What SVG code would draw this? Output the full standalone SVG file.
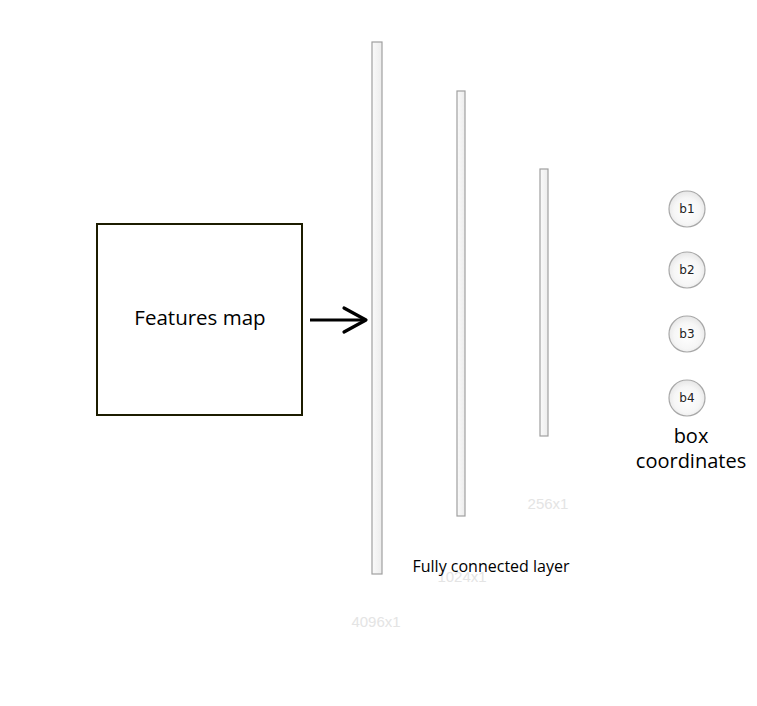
<svg xmlns="http://www.w3.org/2000/svg" width="757" height="706" viewBox="0 0 757 706">
<style>
.bar{fill:url(#barg);stroke:#a0a0a0;stroke-width:1.2}
.node{fill:url(#circg);stroke:#a8a8a8;stroke-width:1.2}
.nl{font-family:"DejaVu Sans",sans-serif;font-size:12px;fill:#222;text-anchor:middle}
.dim{font-family:"Liberation Sans",Arial,sans-serif;font-size:15px;fill:#e4e4e4;text-anchor:middle}
.lbl{font-family:"Open Sans","DejaVu Sans",sans-serif;fill:#000;text-anchor:middle}
</style>
<defs>
<linearGradient id="barg" x1="0" y1="0" x2="1" y2="0">
<stop offset="0" stop-color="#fafafa"/><stop offset="1" stop-color="#ececec"/>
</linearGradient>
<radialGradient id="circg" cx="0.5" cy="0.55" r="0.6">
<stop offset="0" stop-color="#ffffff"/><stop offset="0.6" stop-color="#f6f6f6"/><stop offset="1" stop-color="#e2e2e2"/>
</radialGradient>
</defs>
<rect width="757" height="706" fill="#fff"/>
<g id="features">
<rect x="97" y="224" width="205" height="191" fill="#fff" stroke="#1c1c00" stroke-width="2"/>
<text class="lbl" x="200" y="325" font-size="20.5">Features map</text>
</g>
<g id="connectors">
<line x1="310" y1="320" x2="365" y2="320" stroke="#000" stroke-width="3.2"/>
<polyline points="344,308 366,320 344,332" fill="none" stroke="#000" stroke-width="3.2" stroke-linejoin="round" stroke-linecap="round"/>
</g>
<g id="fc4096">
<rect class="bar" x="372" y="42" width="10" height="532"/>
<text class="dim" x="376" y="627">4096x1</text>
</g>
<g id="fc1024">
<rect class="bar" x="457" y="91" width="8" height="425"/>
<text class="dim" x="462" y="582">1024x1</text>
</g>
<g id="fc256">
<rect class="bar" x="540" y="169" width="8" height="267"/>
<text class="dim" x="548" y="509">256x1</text>
</g>
<g id="fc-label">
<text class="lbl" x="491" y="572" font-size="16">Fully connected layer</text>
</g>
<g id="b1"><circle class="node" cx="687" cy="209" r="18"/><text class="nl" x="687" y="213">b1</text></g>
<g id="b2"><circle class="node" cx="687" cy="270" r="18"/><text class="nl" x="687" y="274">b2</text></g>
<g id="b3"><circle class="node" cx="687" cy="334" r="18"/><text class="nl" x="687" y="338">b3</text></g>
<g id="b4"><circle class="node" cx="687" cy="398" r="18"/><text class="nl" x="687" y="402">b4</text></g>
<g id="box-label">
<text class="lbl" x="691" y="443" font-size="20">box</text>
<text class="lbl" x="691" y="468" font-size="20">coordinates</text>
</g>
</svg>
